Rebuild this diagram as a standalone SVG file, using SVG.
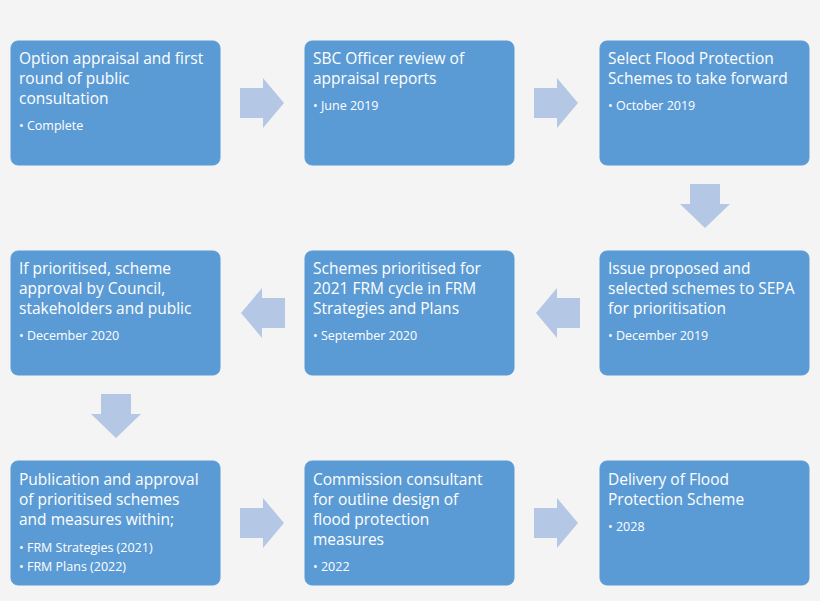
<svg xmlns="http://www.w3.org/2000/svg" width="820" height="601" viewBox="0 0 820 601">
<style>
.b{fill:#5b9bd5;stroke:#5b9bd5}
.t{font-family:"Open Sans","Liberation Sans",sans-serif;font-size:15.5px;fill:#fff}
.s{font-family:"Open Sans","Liberation Sans",sans-serif;font-size:12.5px;fill:#fff}
.a{fill:#b4c8e6}
</style>
<rect width="820" height="601" fill="#f4f4f4"/>
<g id="connectors">
<polygon class="a" points="240,88 263,88 263,78 284,103 263,128 263,118 240,118"/>
<polygon class="a" points="534,88 557,88 557,78 578,103 557,128 557,118 534,118"/>
<polygon class="a" points="690,184 720,184 720,204 730,204 705,228 680,204 690,204"/>
<polygon class="a" points="580,298 557,298 557,288 536,313 557,338 557,328 580,328"/>
<polygon class="a" points="285,298 262,298 262,288 241,313 262,338 262,328 285,328"/>
<polygon class="a" points="101,394 131,394 131,414 141,414 116,438 91,414 101,414"/>
<polygon class="a" points="240,508 263,508 263,498 284,523 263,548 263,538 240,538"/>
<polygon class="a" points="534,508 557,508 557,498 578,523 557,548 557,538 534,538"/>
</g>
<g id="n1"><rect class="b" x="11" y="41" width="209" height="124" rx="7"/><text class="t" x="19" y="64">Option appraisal and first</text><text class="t" x="19" y="84">round of public</text><text class="t" x="19" y="104">consultation</text><text class="s" x="19" y="130">• Complete</text></g>
<g id="n2"><rect class="b" x="305" y="41" width="209" height="124" rx="7"/><text class="t" x="313" y="64">SBC Officer review of</text><text class="t" x="313" y="84">appraisal reports</text><text class="s" x="313" y="110">• June 2019</text></g>
<g id="n3"><rect class="b" x="600" y="41" width="209" height="124" rx="7"/><text class="t" x="608" y="64">Select Flood Protection</text><text class="t" x="608" y="84">Schemes to take forward</text><text class="s" x="608" y="110">• October 2019</text></g>
<g id="n4"><rect class="b" x="600" y="251" width="209" height="124" rx="7"/><text class="t" x="608" y="274">Issue proposed and</text><text class="t" x="608" y="294">selected schemes to SEPA</text><text class="t" x="608" y="314">for prioritisation</text><text class="s" x="608" y="340">• December 2019</text></g>
<g id="n5"><rect class="b" x="305" y="251" width="209" height="124" rx="7"/><text class="t" x="313" y="274">Schemes prioritised for</text><text class="t" x="313" y="294">2021 FRM cycle in FRM</text><text class="t" x="313" y="314">Strategies and Plans</text><text class="s" x="313" y="340">• September 2020</text></g>
<g id="n6"><rect class="b" x="11" y="251" width="209" height="124" rx="7"/><text class="t" x="19" y="274">If prioritised, scheme</text><text class="t" x="19" y="294">approval by Council,</text><text class="t" x="19" y="314">stakeholders and public</text><text class="s" x="19" y="340">• December 2020</text></g>
<g id="n7"><rect class="b" x="11" y="461" width="209" height="124" rx="7"/><text class="t" x="19" y="485">Publication and approval</text><text class="t" x="19" y="505">of prioritised schemes</text><text class="t" x="19" y="525">and measures within;</text><text class="s" x="19" y="552">• FRM Strategies (2021)</text><text class="s" x="19" y="571">• FRM Plans (2022)</text></g>
<g id="n8"><rect class="b" x="305" y="461" width="209" height="124" rx="7"/><text class="t" x="313" y="485">Commission consultant</text><text class="t" x="313" y="505">for outline design of</text><text class="t" x="313" y="525">flood protection</text><text class="t" x="313" y="545">measures</text><text class="s" x="313" y="571">• 2022</text></g>
<g id="n9"><rect class="b" x="600" y="461" width="209" height="124" rx="7"/><text class="t" x="608" y="485">Delivery of Flood</text><text class="t" x="608" y="505">Protection Scheme</text><text class="s" x="608" y="531">• 2028</text></g>
</svg>
